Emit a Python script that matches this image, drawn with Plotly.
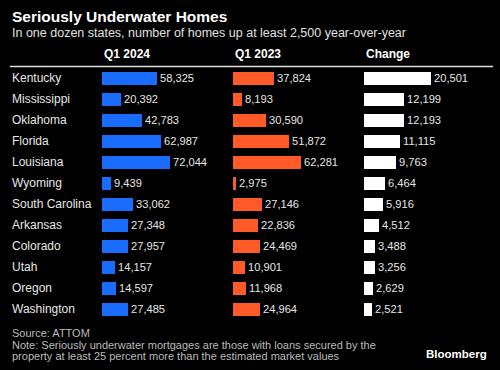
import plotly.graph_objects as go

states = ["Kentucky", "Mississippi", "Oklahoma", "Florida", "Louisiana", "Wyoming",
          "South Carolina", "Arkansas", "Colorado", "Utah", "Oregon", "Washington"]
q1_2024 = [58325, 20392, 42783, 62987, 72044, 9439, 33062, 27348, 27957, 14157, 14597, 27485]
q1_2023 = [37824, 8193, 30590, 51872, 62281, 2975, 27146, 22836, 24469, 10901, 11968, 24964]
change = [20501, 12199, 12193, 11115, 9763, 6464, 5916, 4512, 3488, 3256, 2629, 2521]
col_titles = ["Q1 2024", "Q1 2023", "Change"]

W, H = 500, 370
BG = "#000000"
FONT = "Liberation Sans, Arial, sans-serif"
colors = ["#1a6cff", "#ff5a28", "#ffffff"]
series = [q1_2024, q1_2023, change]
starts = [102, 233, 364]
colw = 120
maxpx = [68, 67.5, 67]

fig = go.Figure()
ydom = [1 - 319.5 / H, 1 - 67.5 / H]

for i, (vals, col) in enumerate(zip(series, colors)):
    xa = "x" if i == 0 else f"x{i+1}"
    fig.add_trace(go.Bar(
        x=vals, y=states, orientation="h", xaxis=xa, yaxis="y",
        marker=dict(color=col, line=dict(width=0)),
        width=0.64,
        text=[f"{v:,}" for v in vals], textposition="outside",
        textfont=dict(color="#e6e6e6", size=12, family=FONT),
        cliponaxis=False, hoverinfo="skip", showlegend=False,
    ))
    rng = [0, max(vals) * colw / maxpx[i]]
    ax = dict(domain=[starts[i] / W, (starts[i] + colw) / W], range=rng,
              visible=False, fixedrange=True)
    if i == 0:
        fig.update_layout(xaxis=dict(ax, anchor="y"))
    else:
        fig.update_layout(**{f"xaxis{i+1}": dict(ax, anchor="y")})
    fig.add_annotation(x=starts[i] / W, y=1 - 54 / H, xref="paper", yref="paper",
                       text=f"<b>{col_titles[i]}</b>", showarrow=False,
                       xanchor="left", yanchor="middle",
                       font=dict(color="#ffffff", size=12, family=FONT))

fig.update_layout(yaxis=dict(domain=ydom, categoryorder="array", categoryarray=states,
                             autorange="reversed", visible=False, fixedrange=True))

for s in states:
    fig.add_annotation(x=10 / W, y=s, xref="paper", yref="y", text=s, showarrow=False,
                       xanchor="left", yanchor="middle",
                       font=dict(color="#e6e6e6", size=12, family=FONT))

fig.add_shape(type="line", xref="paper", yref="paper", x0=10 / W, x1=493 / W,
              y0=1 - 66.5 / H, y1=1 - 66.5 / H, line=dict(color="#dddddd", width=1.5))

fig.add_annotation(x=10 / W, y=1 - 16 / H, xref="paper", yref="paper",
                   text="<b>Seriously Underwater Homes</b>", showarrow=False,
                   xanchor="left", yanchor="middle",
                   font=dict(color="#ffffff", size=15.5, family=FONT))
fig.add_annotation(x=10 / W, y=1 - 33 / H, xref="paper", yref="paper",
                   text="In one dozen states, number of homes up at least 2,500 year-over-year",
                   showarrow=False, xanchor="left", yanchor="middle",
                   font=dict(color="#e0e0e0", size=12.5, family=FONT))

footer = ["Source: ATTOM",
          "Note: Seriously underwater mortgages are those with loans secured by the",
          "property at least 25 percent more than the estimated market values"]
for k, line in enumerate(footer):
    fig.add_annotation(x=10 / W, y=1 - (333 + 11.5 * k) / H, xref="paper", yref="paper",
                       text=line, showarrow=False, xanchor="left", yanchor="middle",
                       font=dict(color="#bbbbbb", size=11, family=FONT))
fig.add_annotation(x=489 / W, y=1 - 354 / H, xref="paper", yref="paper",
                   text="<b>Bloomberg</b>", showarrow=False, xanchor="right", yanchor="middle",
                   font=dict(color="#ffffff", size=11.5, family=FONT))

fig.update_layout(width=W, height=H, margin=dict(l=0, r=0, t=0, b=0),
                  paper_bgcolor=BG, plot_bgcolor=BG, bargap=0)

fig.write_html("out.html", config={"displayModeBar": False},
               post_script="document.body.style.margin='0';document.body.style.background='#000';document.body.style.overflow='hidden';")
